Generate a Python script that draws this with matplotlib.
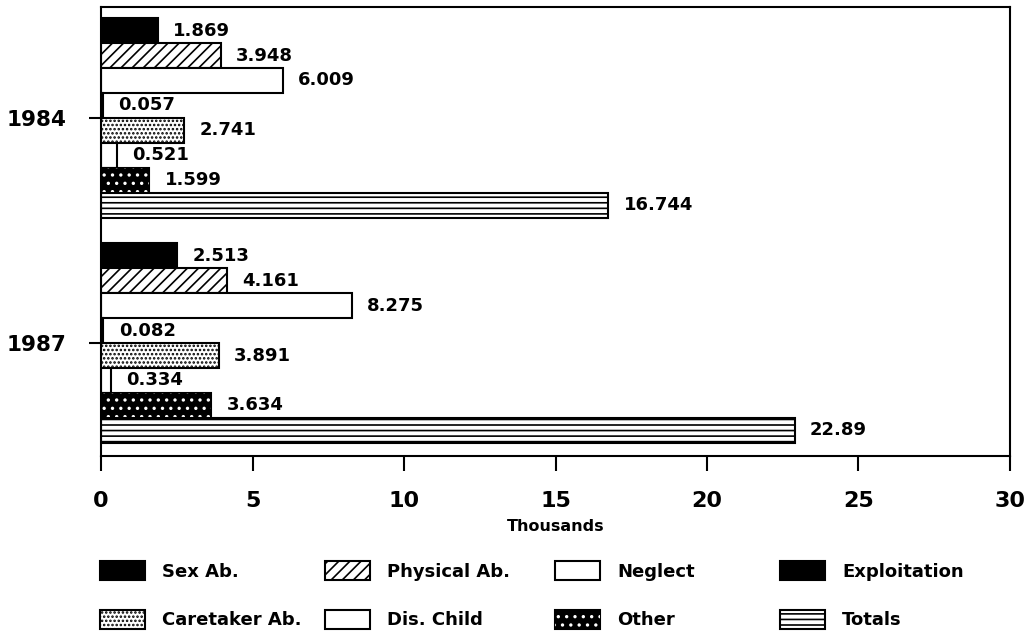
import matplotlib
matplotlib.use("Agg")
import numpy as np
import matplotlib.pyplot as plt
from matplotlib.patches import Patch

# data (thousands of cases)
years = ['1984', '1987']
categories = ['Sex Ab.', 'Physical Ab.', 'Neglect', 'Exploitation',
              'Caretaker Ab.', 'Dis. Child', 'Other', 'Totals']
values_1984 = [1.869, 3.948, 6.009, 0.057, 2.741, 0.521, 1.599, 16.744]
values_1987 = [2.513, 4.161, 8.275, 0.082, 3.891, 0.334, 3.634, 22.89]
x_ticks = [0, 5, 10, 15, 20, 25, 30]

# fill style per category: (facecolor, hatch, hatch colour)
styles = [
    ('black', None, None),
    ('white', '///', None),
    ('white', None, None),
    ('black', None, None),
    ('white', '....', None),
    ('white', None, None),
    ('black', '..', 'white'),
    ('white', '---', None),
]

plt.rcParams['font.family'] = ['DejaVu Sans']
plt.rcParams['font.weight'] = 'bold'
plt.rcParams['axes.labelweight'] = 'bold'
plt.rcParams['hatch.linewidth'] = 1.2

fig = plt.figure(figsize=(10.29, 6.32), dpi=100)
ax = fig.add_axes([101 / 1029, 176 / 632, 909 / 1029, 449 / 632])

bar_h = 0.111
base = np.arange(len(years))
legend_handles = []

for i, (cat, (fc, hatch, hc)) in enumerate(zip(categories, styles)):
    vals = [values_1984[i], values_1987[i]]
    ypos = base + (i - 3.5) * bar_h
    if hc is None:
        bars = ax.barh(ypos, vals, height=bar_h, facecolor=fc,
                       edgecolor='black', linewidth=1.5, hatch=hatch)
        legend_handles.append(Patch(facecolor=fc, edgecolor='black',
                                    linewidth=1.5, hatch=hatch))
    else:
        # speckled dark fill: black bar with white dots on top
        bars = ax.barh(ypos, vals, height=bar_h, facecolor=fc,
                       edgecolor='black', linewidth=1.5)
        ax.barh(ypos, vals, height=bar_h, fill=False, edgecolor=hc,
                linewidth=0, hatch=hatch)
        legend_handles.append((Patch(facecolor=fc, edgecolor='black', linewidth=1.5),
                               Patch(fill=False, edgecolor=hc, linewidth=0, hatch=hatch)))
    ax.bar_label(bars, labels=[f'{v:g}' for v in vals], padding=11,
                 fontsize=13, fontweight='bold')

ax.set_xlim(0, 30)
ax.set_xticks(x_ticks)
ax.set_ylim(1.502, -0.493)
ax.set_yticks(base)
ax.set_yticklabels(years)
ax.tick_params(axis='x', direction='out', length=11, width=1.5, pad=14, labelsize=16)
ax.tick_params(axis='y', direction='out', length=9, width=1.5, pad=16, labelsize=15.5)
for sp in ax.spines.values():
    sp.set_linewidth(1.5)
ax.set_xlabel('Thousands', fontsize=11.5, labelpad=6)

# legend: four columns, two rows, read across
col_x = [100, 325, 555, 780]
for c, x in enumerate(col_x):
    idx = [c, c + 4]
    fig.legend([legend_handles[k] for k in idx], [categories[k] for k in idx],
               loc='upper left', bbox_to_anchor=(x / 1029, 1 - 561 / 632),
               frameon=False, borderpad=0, borderaxespad=0,
               fontsize=13, handlelength=2.5, handleheight=1.25,
               handletextpad=0.95, labelspacing=1.6)

fig.savefig('out.png', dpi=100)
